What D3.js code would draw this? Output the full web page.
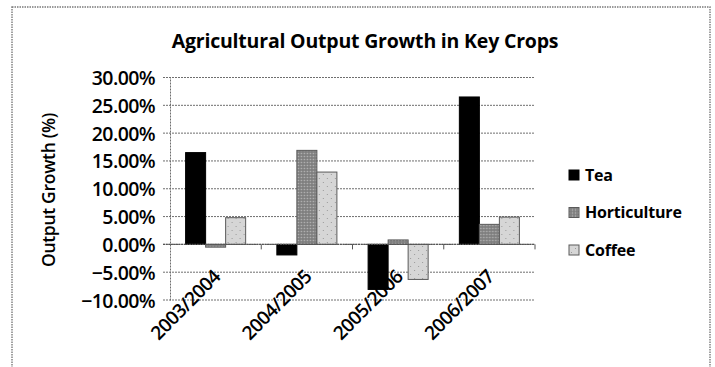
<!DOCTYPE html>
<html>
<head>
<meta charset="utf-8">
<script src="https://cdn.jsdelivr.net/npm/d3@7"></script>
<style>
  html, body { margin: 0; padding: 0; background: #fff; }
  svg { display: block; }
  text { font-family: "Open Sans", "DejaVu Sans", sans-serif; fill: #000; }
</style>
</head>
<body>
<svg id="chart" width="715" height="367"></svg>
<script>
// Growth of agricultural output (%) by season for three key crops
const seasons = ["2003/2004", "2004/2005", "2005/2006", "2006/2007"];
const crops = ["Tea", "Horticulture", "Coffee"];
const tea = [16.5, -1.9, -8.1, 26.5];
const horticulture = [-0.5, 16.9, 0.8, 3.6];
const coffee = [4.8, 13.0, -6.3, 4.9];
const yTicks = [-10, -5, 0, 5, 10, 15, 20, 25, 30];

const seriesValues = { "Tea": tea, "Horticulture": horticulture, "Coffee": coffee };

const svg = d3.select("#chart");
const defs = svg.append("defs");

// Fill patterns for the bars
const hatch = defs.append("pattern")
  .attr("id", "pat-hort").attr("patternUnits", "userSpaceOnUse")
  .attr("width", 3).attr("height", 3);
hatch.append("rect").attr("width", 3).attr("height", 3).attr("fill", "#8a8a8a");
hatch.append("rect").attr("width", 1).attr("height", 1).attr("fill", "#b4b4b4");
hatch.append("rect").attr("x", 1.5).attr("y", 1.5).attr("width", 1).attr("height", 1).attr("fill", "#606060");

const dots = defs.append("pattern")
  .attr("id", "pat-coffee").attr("patternUnits", "userSpaceOnUse")
  .attr("width", 8).attr("height", 8);
dots.append("rect").attr("width", 8).attr("height", 8).attr("fill", "#d6d6d6");
dots.append("rect").attr("x", 2).attr("y", 2).attr("width", 1).attr("height", 1).attr("fill", "#9a9a9a");
dots.append("rect").attr("x", 6).attr("y", 6).attr("width", 1).attr("height", 1).attr("fill", "#9a9a9a");

const fills = { "Tea": "#000", "Horticulture": "url(#pat-hort)", "Coffee": "url(#pat-coffee)" };

// Outer chart frame
svg.append("rect")
  .attr("x", 12).attr("y", 7).attr("width", 698).attr("height", 400)
  .attr("fill", "none").attr("stroke", "#7a7a7a").attr("stroke-width", 1.4)
  .attr("stroke-dasharray", "1.5,1");

const plot = { left: 170, right: 535, top: 77.5, bottom: 300 };

const y = d3.scaleLinear().domain([-10, 30]).range([plot.bottom, plot.top]);
const x = d3.scaleBand().domain(seasons).range([plot.left, plot.right])
  .paddingInner(0.342).paddingOuter(0.171);
const xs = d3.scaleBand().domain(crops).range([0, x.bandwidth()]);

// Horizontal gridlines
svg.append("g").selectAll("line").data(yTicks).join("line")
  .attr("x1", plot.left - 7).attr("x2", plot.right)
  .attr("y1", d => y(d)).attr("y2", d => y(d))
  .attr("stroke", "#6e6e6e").attr("stroke-width", 1)
  .attr("stroke-dasharray", "2,1");

// Vertical value axis
const yAxis = d3.axisLeft(y).tickValues(yTicks).tickSize(0).tickPadding(14)
  .tickFormat(d => d3.format(".2f")(d) + "%");
const gy = svg.append("g").attr("transform", `translate(${plot.left},0)`).call(yAxis);
gy.select(".domain").attr("stroke", "#6e6e6e").attr("stroke-dasharray", "2,1");
gy.selectAll("text")
  .style("font-size", "19.5px").style("font-weight", "600")
  .style("letter-spacing", "-0.6px")
  .attr("dy", "0.36em").attr("x", -15);

// Bars
const groups = svg.append("g").selectAll("g").data(seasons).join("g")
  .attr("transform", d => `translate(${x(d)},0)`);
groups.selectAll("rect")
  .data((s, i) => crops.map(c => ({ crop: c, value: seriesValues[c][i] })))
  .join("rect")
  .attr("x", d => xs(d.crop))
  .attr("width", xs.bandwidth())
  .attr("y", d => y(Math.max(0, d.value)))
  .attr("height", d => Math.abs(y(d.value) - y(0)))
  .attr("fill", d => fills[d.crop])
  .attr("stroke", d => d.crop === "Tea" ? "#000" : "#5a5a5a")
  .attr("stroke-width", 1);

// Category axis along zero, with ticks between seasons
const bounds = seasons.map(s => x(s) + x.bandwidth() + (x.step() - x.bandwidth()) / 2);
svg.append("line")
  .attr("x1", plot.left - 7).attr("x2", plot.right)
  .attr("y1", y(0)).attr("y2", y(0))
  .attr("stroke", "#555").attr("stroke-width", 1.2)
  .attr("stroke-dasharray", "2,0.6");
svg.append("g").selectAll("line").data(bounds).join("line")
  .attr("x1", d => d).attr("x2", d => d)
  .attr("y1", y(0)).attr("y2", y(0) + 5)
  .attr("stroke", "#555");

// Rotated category labels
svg.append("g").selectAll("text").data(seasons).join("text")
  .attr("transform", d => `translate(${x(d) + x.bandwidth() / 2 + 6},${278}) rotate(-45)`)
  .attr("text-anchor", "end")
  .style("font-size", "19px").style("font-weight", "600")
  .style("letter-spacing", "-0.6px")
  .text(d => d);

// Title
svg.append("text")
  .attr("x", 365).attr("y", 48)
  .attr("text-anchor", "middle")
  .style("font-size", "19.5px").style("font-weight", "700")
  .style("letter-spacing", "-0.2px")
  .text("Agricultural Output Growth in Key Crops");

// Value axis title
svg.append("text")
  .attr("transform", `translate(55,190) rotate(-90)`)
  .attr("text-anchor", "middle")
  .style("font-size", "17.5px").style("font-weight", "600")
  .style("letter-spacing", "-0.3px")
  .text("Output Growth (%)");

// Legend
const legend = svg.append("g").selectAll("g").data(crops).join("g")
  .attr("transform", (d, i) => `translate(569,${175 + i * 37.5})`);
legend.append("rect")
  .attr("x", 0).attr("y", -5).attr("width", 10).attr("height", 10)
  .attr("fill", d => fills[d])
  .attr("stroke", d => d === "Tea" ? "#000" : "#5a5a5a");
legend.append("text")
  .attr("x", 16).attr("dy", "0.36em")
  .style("font-size", "16px").style("font-weight", "700")
  .style("letter-spacing", "-0.2px")
  .text(d => d);
</script>
</body>
</html>
